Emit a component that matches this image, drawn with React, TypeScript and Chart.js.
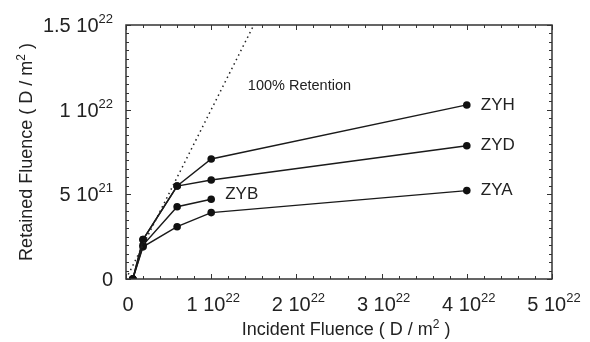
import React, { useEffect, useRef } from "react";
import { Chart, registerables } from "chart.js";

Chart.register(...registerables);

// ---- data (fluences in D / m^2) ----
const incidentLong = [0.08e22, 0.2e22, 0.6e22, 1.0e22, 4.0e22];
const incidentShort = [0.08e22, 0.2e22, 0.6e22, 1.0e22];
const retainedZYH = [0, 0.233e22, 0.549e22, 0.709e22, 1.028e22];
const retainedZYD = [0, 0.233e22, 0.549e22, 0.585e22, 0.787e22];
const retainedZYB = [0, 0.2e22, 0.427e22, 0.471e22];
const retainedZYA = [0, 0.19e22, 0.309e22, 0.392e22, 0.522e22];
const retentionX = [0, 1.5e22];
const retentionY = [0, 1.5e22];
const seriesNames = ["ZYH", "ZYD", "ZYB", "ZYA"];
const xTicks = [0, 1e22, 2e22, 3e22, 4e22, 5e22];
const yTicks = [0, 5e21, 1e22, 1.5e22];
const xMinorStep = 0.2e22;
const yMinorStep = 0.05e22;
const retentionLabel = "100% Retention";
const retentionLabelAt = [1.43e22, 1.14e22];
const xTitle = "Incident Fluence ( D / m";
const yTitle = "Retained Fluence ( D / m";

const FONT = "'Liberation Sans', Arial, Helvetica, sans-serif";
const INK = "#222";

type Part = { t: string; sup?: boolean };

function tickParts(v: number): Part[] {
  if (v === 0) return [{ t: "0" }];
  const exp = Math.floor(Math.log10(v) + 1e-9);
  const mant = +(v / Math.pow(10, exp)).toPrecision(3);
  return [{ t: `${mant} 10` }, { t: String(exp), sup: true }];
}

function richWidth(ctx: CanvasRenderingContext2D, parts: Part[], main: number, sup: number) {
  let w = 0;
  for (const p of parts) {
    ctx.font = `${p.sup ? sup : main}px ${FONT}`;
    w += ctx.measureText(p.t).width;
  }
  return w;
}

function drawRich(
  ctx: CanvasRenderingContext2D,
  parts: Part[],
  x: number,
  y: number,
  align: "left" | "center" | "right",
  main: number,
  sup: number,
  rise: number
) {
  const w = richWidth(ctx, parts, main, sup);
  let cx = align === "left" ? x : align === "center" ? x - w / 2 : x - w;
  ctx.textAlign = "left";
  ctx.textBaseline = "alphabetic";
  for (const p of parts) {
    ctx.font = `${p.sup ? sup : main}px ${FONT}`;
    ctx.fillText(p.t, cx, p.sup ? y - rise : y);
    cx += ctx.measureText(p.t).width;
  }
}

const framePlugin = {
  id: "frameTicksLabels",
  afterDraw(chart: any) {
    const ctx: CanvasRenderingContext2D = chart.ctx;
    const xs = chart.scales.x;
    const ys = chart.scales.y;
    const { left, right, top, bottom } = chart.chartArea;
    ctx.save();
    ctx.strokeStyle = "#333";
    ctx.fillStyle = INK;
    // frame
    ctx.lineWidth = 1.5;
    ctx.strokeRect(left, top, right - left, bottom - top);
    // ticks
    ctx.lineWidth = 1;
    const xMax = xTicks[xTicks.length - 1];
    for (let i = 0; i <= Math.round(xMax / xMinorStep); i++) {
      const v = i * xMinorStep;
      const major = xTicks.some((t) => Math.abs(t - v) < xMinorStep / 10);
      const len = major ? 5 : 3;
      const px = Math.round(xs.getPixelForValue(v)) + 0.5;
      ctx.beginPath();
      ctx.moveTo(px, bottom);
      ctx.lineTo(px, bottom - len);
      ctx.moveTo(px, top);
      ctx.lineTo(px, top + len);
      ctx.stroke();
    }
    const yMax = yTicks[yTicks.length - 1];
    for (let i = 0; i <= Math.round(yMax / yMinorStep); i++) {
      const v = i * yMinorStep;
      const major = yTicks.some((t) => Math.abs(t - v) < yMinorStep / 10);
      const len = major ? 5 : 3;
      const py = Math.round(ys.getPixelForValue(v)) + 0.5;
      ctx.beginPath();
      ctx.moveTo(left, py);
      ctx.lineTo(left + len, py);
      ctx.moveTo(right, py);
      ctx.lineTo(right - len, py);
      ctx.stroke();
    }
    // tick labels
    for (const v of xTicks) {
      drawRich(ctx, tickParts(v), xs.getPixelForValue(v) + 2, bottom + 32, "center", 20, 13, 9);
    }
    for (const v of yTicks) {
      drawRich(ctx, tickParts(v), left - 13, ys.getPixelForValue(v) + 7, "right", 20, 13, 9);
    }
    // axis titles
    const xt: Part[] = [{ t: xTitle }, { t: "2", sup: true }, { t: " )" }];
    drawRich(ctx, xt, (left + right) / 2 + 7, 335, "center", 18, 12, 7);
    const yt: Part[] = [{ t: yTitle }, { t: "2", sup: true }, { t: " )" }];
    ctx.save();
    ctx.translate(32, (top + bottom) / 2);
    ctx.rotate(-Math.PI / 2);
    drawRich(ctx, yt, 0, 0, "center", 18, 12, 7);
    ctx.restore();
    // annotations
    ctx.textAlign = "left";
    ctx.textBaseline = "middle";
    ctx.font = `14.5px ${FONT}`;
    ctx.fillText(retentionLabel, xs.getPixelForValue(retentionLabelAt[0]), ys.getPixelForValue(retentionLabelAt[1]));
    ctx.font = `17px ${FONT}`;
    const ends: [number, number, number][] = [
      [incidentLong[4], retainedZYH[4], 0],
      [incidentLong[4], retainedZYD[4], 0],
      [incidentShort[3], retainedZYB[3], -5],
      [incidentLong[4], retainedZYA[4], 0],
    ];
    ends.forEach(([x, y, dy], i) => {
      ctx.fillText(seriesNames[i], xs.getPixelForValue(x) + 14, ys.getPixelForValue(y) + dy);
    });
    ctx.restore();
  },
};

function pts(xv: number[], yv: number[]) {
  return xv.map((x, i) => ({ x, y: yv[i] }));
}

export default function App() {
  const ref = useRef<HTMLCanvasElement>(null);
  useEffect(() => {
    if (!ref.current) return;
    const lineDs = (label: string, data: any[]) => ({
      label,
      data,
      borderColor: "#1a1a1a",
      backgroundColor: "#1a1a1a",
      borderWidth: 1.4,
      pointRadius: 3.8,
      pointBorderWidth: 0,
      pointBackgroundColor: "#111",
      tension: 0,
    });
    const chart = new Chart(ref.current, {
      type: "line",
      data: {
        datasets: [
          {
            label: retentionLabel,
            data: pts(retentionX, retentionY),
            borderColor: "#222",
            borderWidth: 1.5,
            borderDash: [1.5, 3.5],
            pointRadius: 0,
          },
          lineDs(seriesNames[0], pts(incidentLong, retainedZYH)),
          lineDs(seriesNames[1], pts(incidentLong, retainedZYD)),
          lineDs(seriesNames[2], pts(incidentShort, retainedZYB)),
          lineDs(seriesNames[3], pts(incidentLong, retainedZYA)),
        ],
      },
      options: {
        responsive: false,
        animation: false,
        devicePixelRatio: 1,
        layout: { padding: { left: 126, right: 38, top: 25, bottom: 63 } },
        plugins: { legend: { display: false }, tooltip: { enabled: false } },
        scales: {
          x: { type: "linear", min: 0, max: 5e22, display: false },
          y: { type: "linear", min: 0, max: 1.5e22, display: false },
        },
      },
      plugins: [framePlugin],
    });
    return () => chart.destroy();
  }, []);
  return (
    <div style={{ position: "fixed", left: 0, top: 0, width: 590, height: 342, background: "#fff" }}>
      <canvas ref={ref} width={590} height={342} />
    </div>
  );
}
